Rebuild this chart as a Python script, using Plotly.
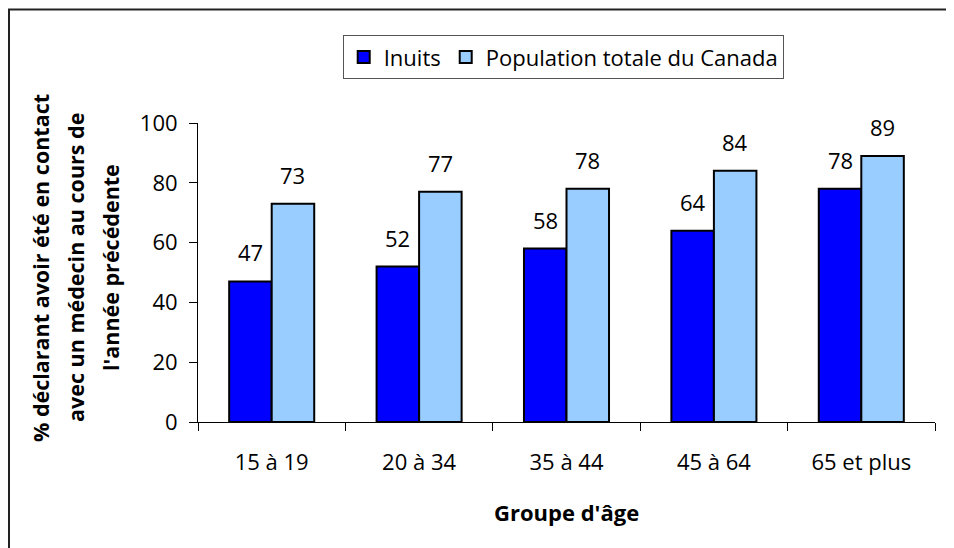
import plotly.graph_objects as go

categories = ["15 à 19", "20 à 34", "35 à 44", "45 à 64", "65 et plus"]
inuits = [47, 52, 58, 64, 78]
canada = [73, 77, 78, 84, 89]
series_names = ["Inuits", "Population totale du Canada"]
y_ticks = [0, 20, 40, 60, 80, 100]
y_title_lines = ["% déclarant avoir été en contact", "avec un médecin au cours de", "l'année précédente"]
x_title = "Groupe d'âge"

# page is offset by the default 8px body margin
OFF = 8
PAGE_W, PAGE_H = 954, 548
W, H = PAGE_W - OFF, PAGE_H - OFF
L, R, T, B = 198, 935, 122.7, 422.3
pw, ph = R - L, B - T

def px(x):
    return (x - L) / pw

def py(y):
    return (B - y) / ph

FONT = "Open Sans"
FS = 22
fig = go.Figure()
fig.add_trace(go.Bar(x=categories, y=inuits, name=series_names[0],
                     marker=dict(color="#0000FF", line=dict(color="black", width=2))))
fig.add_trace(go.Bar(x=categories, y=canada, name=series_names[1],
                     marker=dict(color="#99CCFF", line=dict(color="black", width=2))))

annotations = []
bar_half = pw / len(categories) * (1 - 0.423) / 4
for c, v in zip(categories, inuits):
    annotations.append(dict(x=c, y=v, xref="x", yref="y", text=str(v), showarrow=False,
                            xshift=-bar_half, yshift=29, yanchor="middle",
                            font=dict(size=FS, color="black", family=FONT)))
for c, v in zip(categories, canada):
    annotations.append(dict(x=c, y=v, xref="x", yref="y", text=str(v), showarrow=False,
                            xshift=bar_half, yshift=29, yanchor="middle",
                            font=dict(size=FS, color="black", family=FONT)))
for line, xc in zip(y_title_lines, [40, 75, 110]):
    annotations.append(dict(x=px(xc), y=py(268), xref="paper", yref="paper", text="<b>" + line + "</b>",
                            showarrow=False, textangle=-90, xanchor="center", yanchor="middle",
                            font=dict(size=21.5, color="black", family=FONT)))
annotations.append(dict(x=px(566), y=py(512), xref="paper", yref="paper", text="<b>" + x_title + "</b>",
                        showarrow=False, xanchor="center", yanchor="middle",
                        font=dict(size=22, color="black", family=FONT)))

fig.update_layout(
    width=W, height=H,
    margin=dict(l=L - OFF, r=PAGE_W - R, t=T - OFF, b=PAGE_H - B, pad=0),
    paper_bgcolor="white", plot_bgcolor="white",
    barmode="group", bargap=0.423, bargroupgap=0,
    font=dict(family=FONT, size=FS, color="black"),
    showlegend=True,
    legend=dict(orientation="h", x=px(342.7), y=py(34.7), xanchor="left", yanchor="top",
                bordercolor="#555555", borderwidth=1, bgcolor="white",
                font=dict(size=FS, family=FONT, color="black"),
                itemwidth=30, tracegroupgap=0, traceorder="normal"),
    annotations=annotations,
    shapes=[dict(type="rect", xref="paper", yref="paper",
                 x0=px(9), x1=px(990), y0=py(600), y1=py(9),
                 line=dict(color="#222222", width=2), fillcolor="rgba(0,0,0,0)", layer="below")],
)
fig.update_xaxes(showline=True, linecolor="black", linewidth=1, ticks="outside", ticklen=8,
                 tickcolor="black", tickson="boundaries", showgrid=False,
                 tickfont=dict(size=FS, family=FONT, color="black"), ticklabelstandoff=21)
fig.update_yaxes(range=[0, 100], tickvals=y_ticks, showline=True, linecolor="black", linewidth=1,
                 ticks="outside", ticklen=8, tickcolor="black", showgrid=False, zeroline=False,
                 tickfont=dict(size=FS, family=FONT, color="black"), ticklabelstandoff=7)

fig.write_html("out.html")
